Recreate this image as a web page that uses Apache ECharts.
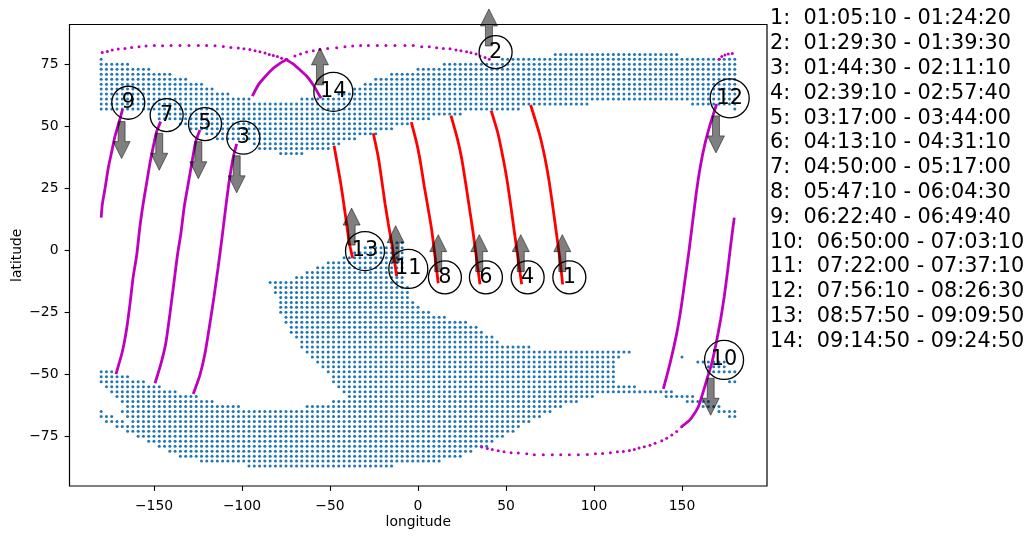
<!DOCTYPE html>
<html>
<head>
<meta charset="utf-8">
<style>html,body{margin:0;padding:0;background:#fff}#main{width:1034px;height:539px}</style>
<script src="https://cdn.jsdelivr.net/npm/echarts@6/dist/echarts.min.js"></script>
</head>
<body>
<div id="main"></div>
<script>
// grid rows: latitude and the longitude runs drawn in that row (3 deg apart)
const coverageLats = [79, 77, 75, 73, 71, 69, 67, 65, 63, 61, 59, 57, 55, 53, 51, 49, 47, 45, 43, 41, 39,
  3, 1, -1, -3, -5, -7, -9, -11, -13, -15, -17, -19, -21, -23, -25, -27, -29, -31, -33, -35, -37, -39,
  -41, -43, -45, -47, -49, -51, -53, -55, -57, -59, -61, -63, -65, -67, -69, -71, -73, -75, -77, -79, -81, -83, -85, -87];
const coverageRuns = [
  [[78, 147]],
  [[-180, -180], [48, 180]],
  [[-180, -165], [15, 180]],
  [[-180, -153], [0, 180]],
  [[-180, -141], [-15, 180]],
  [[-180, -132], [-24, 180]],
  [[-180, -123], [-30, 180]],
  [[-180, -117], [-36, 180]],
  [[-180, -108], [-45, 180]],
  [[-180, -96], [-66, 180]],
  [[-180, 96], [156, 180]],
  [[-180, 57], [180, 180]],
  [[-147, 24]],
  [[-147, 6]],
  [[-135, -6]],
  [[-129, -15]],
  [[-120, -24]],
  [[-114, -36]],
  [[-93, -45]],
  [[-90, -51]],
  [[-78, -66]],
  [[-12, -9]],
  [[-30, -9]],
  [[-36, -9]],
  [[-42, -9]],
  [[-51, -9]],
  [[-57, -9]],
  [[-63, -9]],
  [[-69, -9]],
  [[-84, -9]],
  [[-81, -6]],
  [[-81, -6]],
  [[-78, -6]],
  [[-78, -3]],
  [[-78, 0]],
  [[-78, 6]],
  [[-75, 15]],
  [[-75, 27]],
  [[-72, 33]],
  [[-72, 36]],
  [[-69, 42]],
  [[-66, 45]],
  [[-66, 63]],
  [[-63, 120]],
  [[-60, 114], [150, 150]],
  [[-57, 111], [159, 174]],
  [[-54, 111], [165, 174]],
  [[-180, -174], [-51, 111], [165, 180]],
  [[-180, -165], [-48, 111]],
  [[-180, -156], [-48, 111], [177, 180]],
  [[-177, -147], [-45, 123]],
  [[-174, -138], [-42, 144]],
  [[-171, -126], [-39, 99], [141, 156]],
  [[-168, -117], [-48, 90], [153, 165]],
  [[-165, -102], [-63, 81], [162, 171]],
  [[-180, -180], [-168, 75], [171, 180]],
  [[-180, -174], [-165, 69], [177, 180]],
  [[-177, -168], [-162, 63]],
  [[-171, 57]],
  [[-165, 54]],
  [[-159, 48]],
  [[-153, 42]],
  [[-147, 39]],
  [[-141, 30]],
  [[-135, 24]],
  [[-123, 12]],
  [[-96, -15]]
];

// daylight passes (red)
const pass1 = [[64, 58.6], [68.9, 47.2], [72, 37.7], [74.4, 28.3], [76.6, 17.6], [78.4, 8.2], [80.7, -3.9], [82.2, -13.7]];
const pass4 = [[41.6, 56.3], [45.4, 47.2], [48.2, 37.7], [50.6, 28.3], [52.8, 17.6], [54.6, 8.2], [57, -3.9], [58.9, -13.7]];
const pass6 = [[18.75, 54.3], [22.3, 45.2], [24.8, 37.1], [27.1, 27], [29.1, 17.6], [31.1, 8.2], [33.4, -3.9], [35.2, -13.7]];
const pass8 = [[-3.8, 51.7], [-0.7, 43.1], [1.5, 35.1], [3.6, 25.6], [5.9, 16.3], [7.8, 8.2], [9.7, -2.6], [11.5, -13.3]];
const pass11 = [[-25.4, 47.2], [-22.6, 37.7], [-20.6, 28.3], [-18.75, 19], [-16.9, 10.9], [-14.6, 1.5], [-12.1, -10.4]];
const pass13 = [[-47.7, 42.2], [-45.9, 35.1], [-43.9, 27], [-42.2, 19], [-40.6, 10.9], [-39, 2.8], [-37.1, -3.2]];

// night passes (magenta), solid looking parts
const pass9 = [[-167.8, 56.9], [-169.9, 51.5], [-172.2, 45.9], [-174, 39.8], [-176, 33.1], [-177.8, 25], [-179.4, 18.3], [-180, 13.2]];
const pass7 = [[-146.2, 51.9], [-148.5, 47.8], [-150.4, 41.8], [-152.3, 35.1], [-154.2, 27], [-156.1, 19], [-158, 9.5], [-159.8, -1.9],
  [-161.8, -10.6], [-163.6, -21.4], [-165.5, -31.5], [-168, -40.9], [-171.6, -49.9]];
const pass5 = [[-123.9, 48.5], [-126.3, 43.8], [-128.2, 36.4], [-130.5, 27], [-132.8, 17.6], [-134.7, 6.9], [-136.8, -2.6], [-138.6, -12.7],
  [-140.9, -25.4], [-143.3, -37.5], [-146, -45.6], [-149.4, -53.6]];
const pass3 = [[-103, 42.9], [-104.9, 37.7], [-107.2, 28.3], [-109.3, 16.9], [-111.5, 4.2], [-113.5, -6.6], [-115.9, -18.7], [-118.2, -29.4],
  [-121, -41.5], [-123.9, -50.3], [-127.7, -57.9]];
const pass12 = [[169.7, 59], [166.2, 51.2], [163.1, 43.1], [160.4, 33.7], [158.1, 23], [155.7, 9.5], [153.8, -1.2], [151.7, -12], [149.6, -22.7],
  [147, -33.5], [143.2, -45.6], [139.4, -55.9]];
const pass10 = [[179.7, 13.2], [177.8, 2.8], [176, -7.9], [174, -18.7], [171.9, -28.1], [169.4, -37.5], [166.9, -45.6], [164.6, -51], [159.3, -63.1],
  [154.5, -68.4], [149.8, -71.1]];
const pass14a = [[-75.0, 76.9], [-70.8, 75.1], [-67.0, 72.7], [-63.3, 70.3], [-59.5, 66.7], [-55.1, 61.3]];
const pass14b = [[-94.1, 62.2], [-90.7, 66.7], [-86.9, 70.0], [-82.2, 73.4], [-78.4, 75.4], [-74.6, 77.0]];

// night passes, single dots far apart near the poles
const dotsNorthA = [[-179.4, 79.8], [-176.5, 80.2], [-173.7, 80.8], [-170.3, 81.2], [-166.5, 81.4], [-162.7, 81.8], [-158.5, 82.1],
  [-154.5, 82.4], [-149.8, 82.6], [-145.1, 82.5], [-140.3, 82.6], [-135.2, 82.6], [-130.1, 82.6], [-124.8, 82.6], [-120.1, 82.6],
  [-115.3, 82.5], [-110.6, 82.2], [-106.3, 81.8], [-102.1, 81.6], [-98.9, 81.3], [-95.5, 81.0], [-92.6, 80.5], [-89.8, 80.1],
  [-86.9, 79.6], [-84.5, 79.0], [-82.2, 78.6], [-79.9, 78.1], [-77.5, 77.4], [-75.0, 76.9]];
const dotsNorthB = [[-74.6, 77.0], [-69.9, 78.3], [-66.7, 79.2], [-63.3, 80.0], [-59.5, 80.5], [-55.7, 81.0], [-51.3, 81.4],
  [-46.2, 81.7], [-41.5, 82.1], [-37.1, 82.4], [-32.6, 82.6], [-28.2, 82.6], [-23.1, 82.6], [-18.2, 82.6], [-13.1, 82.6], [-7.4, 82.6],
  [-2.7, 82.6], [2.1, 82.1], [6.4, 82.1], [10.6, 81.7], [14.4, 81.4], [18.2, 81.3], [21.6, 80.8], [24.4, 80.5], [27.6, 80.1],
  [30.1, 79.7], [33.0, 79.2], [35.2, 78.3], [38.1, 77.7], [40.5, 77.0]];
const dotsNorthC = [[171.2, 77.0], [172.6, 78.1], [174.4, 78.8], [176.3, 79.2], [178.6, 79.4]];
const dotsSouth = [[149.8, -71.1], [147.0, -73.1], [144.2, -74.5], [141.3, -75.8], [138.5, -76.8], [134.7, -77.8], [131.8, -78.6],
  [128.6, -79.2], [125.6, -79.7], [122.9, -80.3], [120.1, -80.7], [116.7, -81.1], [113.3, -81.2], [109.3, -81.6], [104.9, -81.9],
  [100.8, -82.0], [96.2, -82.3], [91.1, -82.4], [86.0, -82.4], [81.1, -82.4], [76.3, -82.4], [71.2, -82.4], [66.1, -82.4], [61.8, -82.0],
  [57.0, -81.7], [52.9, -81.6], [48.9, -81.2], [45.6, -80.8], [42.2, -80.3], [39.4, -79.9], [36.2, -79.3]];

// numbered circles
const passNames = ["1", "2", "3", "4", "5", "6", "7", "8", "9", "10", "11", "12", "13", "14"];
const circleLons = [86.0, 44.1, -99.2, 62.3, -121.0, 38.6, -142.8, 15.3, -164.6, 173.9, -5.5, 177.1, -30.1, -48.1];
const circleLats = [-10.9, 79.9, 45.4, -10.9, 50.9, -10.9, 54.5, -10.9, 59.5, -44.2, -7.5, 61.3, -0.3, 63.9];

// arrow tails, heading +1 north / -1 south
const arrowLons = [82.0, 40.3, -103.0, 58.4, -124.8, 34.8, -147.0, 11.5, -168.4, 166.3, -12.7, 169.3, -37.7, -55.7];
const arrowLats = [-8.6, 82.4, 38.1, -8.6, 43.8, -8.6, 47.2, -8.6, 51.9, -51.6, -5.0, 54.2, 2.1, 66.7];
const arrowHeadings = [1, 1, -1, 1, -1, 1, -1, 1, -1, -1, 1, -1, 1, 1];

const passTimes = ["1:  01:05:10 - 01:24:20", "2:  01:29:30 - 01:39:30", "3:  01:44:30 - 02:11:10", "4:  02:39:10 - 02:57:40",
  "5:  03:17:00 - 03:44:00", "6:  04:13:10 - 04:31:10", "7:  04:50:00 - 05:17:00", "8:  05:47:10 - 06:04:30",
  "9:  06:22:40 - 06:49:40", "10:  06:50:00 - 07:03:10", "11:  07:22:00 - 07:37:10", "12:  07:56:10 - 08:26:30",
  "13:  08:57:50 - 09:09:50", "14:  09:14:50 - 09:24:50"];

const xTicks = [-150, -100, -50, 0, 50, 100, 150];
const yTicks = [-75, -50, -25, 0, 25, 50, 75];

const FONT = "DejaVu Sans";
const RED = "#ff0000";
const MAGENTA = "#bf00bf";

// expand the runs into grid points
const coverage = [];
coverageLats.forEach(function (lat, i) {
  coverageRuns[i].forEach(function (run) {
    for (let lon = run[0]; lon <= run[1]; lon += 3) coverage.push([lon, lat]);
  });
});

function trackLine(points, color) {
  return {
    type: "line", data: points, smooth: 0.2, showSymbol: false, silent: true, z: 3,
    lineStyle: { color: color, width: 2.8 }
  };
}
function trackDots(points) {
  return {
    type: "scatter", data: points, symbolSize: 3, silent: true, z: 3,
    itemStyle: { color: MAGENTA, opacity: 1 }
  };
}

const myChart = echarts.init(document.getElementById("main"), null, { renderer: "canvas" });
const minusLabel = function (v) { return String(v).replace("-", "\u2212"); };

myChart.setOption({
  animation: false,
  grid: {
    left: 69.5, right: 267, top: 24.5, bottom: 53, outerBoundsMode: "none",
    show: true, borderColor: "#000", borderWidth: 1.2, backgroundColor: "#fff"
  },
  xAxis: {
    type: "value", min: -198, max: 198.3, name: "longitude", nameLocation: "middle", nameGap: 29, nameMoveOverlap: false,
    nameTextStyle: { fontFamily: FONT, fontSize: 13.9, color: "#000" },
    splitLine: { show: false },
    axisLine: { show: false, onZero: false },
    axisTick: { show: true, length: 4.9, customValues: xTicks, lineStyle: { color: "#000", width: 1.1 } },
    axisLabel: { customValues: xTicks, formatter: minusLabel, fontFamily: FONT, fontSize: 13.9, color: "#000", margin: 13 }
  },
  yAxis: {
    type: "value", min: -95.04, max: 91.05, name: "latitude", nameLocation: "middle", nameGap: 45, nameMoveOverlap: false,
    nameTextStyle: { fontFamily: FONT, fontSize: 13.9, color: "#000" },
    splitLine: { show: false },
    axisLine: { show: false, onZero: false },
    axisTick: { show: true, length: 4.9, customValues: yTicks, lineStyle: { color: "#000", width: 1.1 } },
    axisLabel: { customValues: yTicks, formatter: minusLabel, fontFamily: FONT, fontSize: 13.9, color: "#000", margin: 11 }
  },
  series: [
    { type: "scatter", data: coverage, symbolSize: 3, silent: true, z: 2, itemStyle: { color: "#1f77b4", opacity: 1 } },
    trackLine(pass1, RED), trackLine(pass4, RED), trackLine(pass6, RED), trackLine(pass8, RED), trackLine(pass11, RED), trackLine(pass13, RED),
    trackLine(pass9, MAGENTA), trackLine(pass7, MAGENTA), trackLine(pass5, MAGENTA), trackLine(pass3, MAGENTA),
    trackLine(pass12, MAGENTA), trackLine(pass10, MAGENTA), trackLine(pass14a, MAGENTA), trackLine(pass14b, MAGENTA),
    trackDots(dotsNorthA), trackDots(dotsNorthB), trackDots(dotsNorthC), trackDots(dotsSouth),
    {
      type: "custom", silent: true, z: 4, clip: false,
      data: arrowLons.map(function (lon, i) { return [lon, arrowLats[i], arrowHeadings[i]]; }),
      renderItem: function (params, api) {
        // wide grey annotation arrow, 37 px long
        const tail = api.coord([api.value(0), api.value(1)]);
        const d = -api.value(2);
        const x = tail[0], y = tail[1];
        return {
          type: "polygon",
          shape: { points: [
            [x - 3.5, y], [x + 3.5, y], [x + 3.5, y + d * 20], [x + 8.5, y + d * 20],
            [x, y + d * 37], [x - 8.5, y + d * 20], [x - 3.5, y + d * 20]
          ] },
          style: { fill: "rgba(0,0,0,0.5)", stroke: "rgba(0,0,0,0.5)", lineWidth: 1 }
        };
      }
    },
    {
      type: "scatter", silent: true, z: 5,
      data: circleLons.map(function (lon, i) { return [lon, circleLats[i], passNames[i]]; }),
      symbol: "circle",
      symbolSize: function (v) { return v[2].length > 1 ? 39 : 33; },
      itemStyle: { color: "rgba(255,255,255,0)", borderColor: "#000", borderWidth: 1.3, opacity: 1 },
      label: {
        show: true, position: "inside", fontFamily: FONT, fontSize: 20.8, color: "#000", opacity: 1,
        formatter: function (p) { return p.value[2]; }
      }
    }
  ],
  graphic: passTimes.map(function (line, i) {
    return {
      type: "text", left: 770, top: 8.5 + i * 24.8, z: 10, silent: true,
      style: { text: line, fontFamily: FONT, fontSize: 20.8, fill: "#000" }
    };
  })
});
</script>
</body>
</html>
